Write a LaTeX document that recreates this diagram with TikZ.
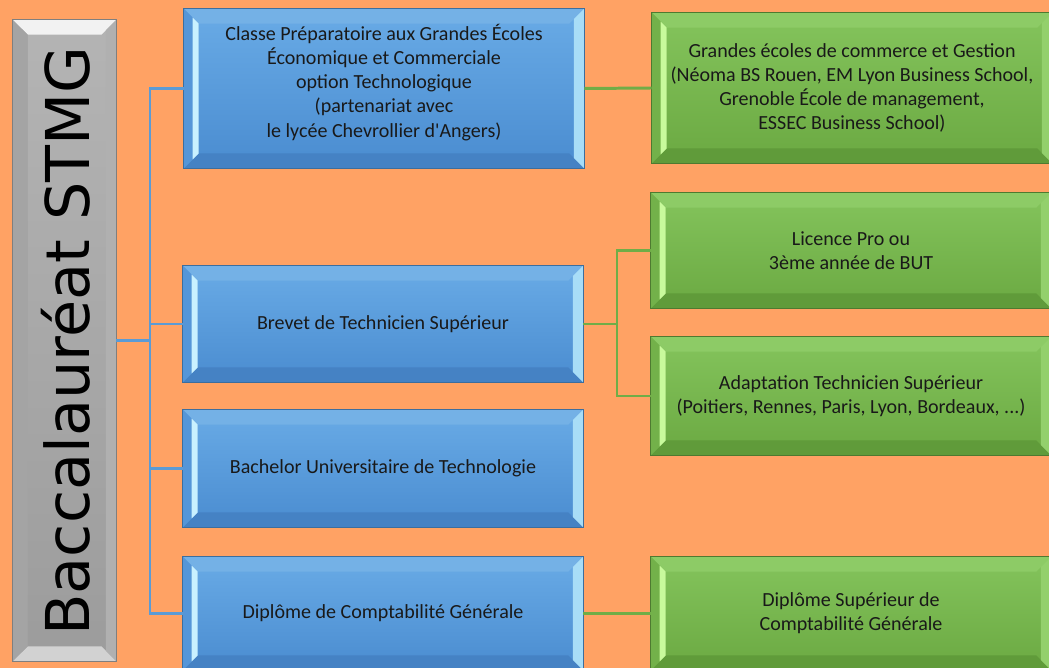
\documentclass[tikz,border=0pt]{standalone}
\usepackage{fontspec}
\setmainfont{Carlito}
\newfontfamily\titlefont{DejaVu Sans}
\definecolor{bgorange}{HTML}{FFA264}
% blue boxes
\definecolor{bltopfill}{HTML}{69ABE6}
\definecolor{blbotfill}{HTML}{4A8CD0}
\definecolor{bltop}{HTML}{74B1E6}
\definecolor{blbot}{HTML}{4582C4}
\definecolor{blleft}{HTML}{5596D8}
\definecolor{blright}{HTML}{A8DDF7}
\definecolor{blhi}{HTML}{C9F1FF}
\definecolor{blline}{HTML}{3C6E9E}
% green boxes
\definecolor{grtopfill}{HTML}{84C45C}
\definecolor{grbotfill}{HTML}{6BA942}
\definecolor{grtop}{HTML}{8DCB66}
\definecolor{grbot}{HTML}{609B3A}
\definecolor{grleft}{HTML}{73B14A}
\definecolor{grright}{HTML}{93D06C}
\definecolor{grhi}{HTML}{C8FA9C}
\definecolor{grline}{HTML}{4E7A30}
% gray box
\definecolor{gytopfill}{HTML}{B4B4B4}
\definecolor{gybotfill}{HTML}{9C9C9C}
\definecolor{gytop}{HTML}{F2F2F2}
\definecolor{gybot}{HTML}{D2D2D2}
\definecolor{gyleft}{HTML}{A4A4A4}
\definecolor{gyright}{HTML}{B0B0B0}
\definecolor{gyhi}{HTML}{A4A4A4}
\definecolor{gyline}{HTML}{7F7F7F}
\definecolor{bluelink}{HTML}{5B9BD5}
\definecolor{greenlink}{HTML}{70AD47}

\newlength\bw
\setlength\bw{0.3cm}
% bevel facets round a named node, #2 is the colour prefix
\newcommand{\bevelbox}[2]{%
  \fill[#2top] (#1.north west) -- (#1.north east) -- ([shift={(-\bw,-\bw)}]#1.north east) -- ([shift={(\bw,-\bw)}]#1.north west) -- cycle;
  \fill[#2bot] (#1.south west) -- (#1.south east) -- ([shift={(-\bw,\bw)}]#1.south east) -- ([shift={(\bw,\bw)}]#1.south west) -- cycle;
  \fill[#2left] (#1.north west) -- ([shift={(\bw,-\bw)}]#1.north west) -- ([shift={(\bw,\bw)}]#1.south west) -- (#1.south west) -- cycle;
  \fill[#2right] (#1.north east) -- ([shift={(-0.7\bw,-0.7\bw)}]#1.north east) -- ([shift={(-0.7\bw,0.7\bw)}]#1.south east) -- (#1.south east) -- cycle;
  \fill[#2hi] ([shift={(0.6\bw,-0.6\bw)}]#1.north west) -- ([shift={(\bw,-\bw)}]#1.north west) -- ([shift={(\bw,\bw)}]#1.south west) -- ([shift={(0.6\bw,0.6\bw)}]#1.south west) -- cycle;
  \draw[#2line, line width=0.6pt] (#1.north west) rectangle (#1.south east);
}

\begin{document}
\begin{tikzpicture}[x=0.02cm, y=-0.02cm]
  \tikzstyle{every node}=[inner sep=2pt, align=center, text=black!90, font=\fontsize{11.4}{13.8}\selectfont]
  \tikzstyle{bluebox}=[rectangle, minimum width=8cm, top color=bltopfill, bottom color=blbotfill]
  \tikzstyle{greenbox}=[rectangle, minimum width=8cm, top color=grtopfill, bottom color=grbotfill]
  \tikzstyle{graybox}=[rectangle, minimum width=2.06cm, minimum height=12.82cm, top color=gytopfill, bottom color=gybotfill]
  \tikzstyle{bluelink}=[draw=bluelink, line width=1.7pt]
  \tikzstyle{greenlink}=[draw=greenlink, line width=1.7pt]

  \clip (0,0) rectangle (1049,668);
  \fill[bgorange] (0,0) rectangle (1049,668);

  % left column
  \node[graybox] (stmg) at (64.5,340.5) {};
  \bevelbox{stmg}{gy}
  \node[rotate=90, font=\titlefont\fontsize{34.4}{38}\selectfont, text=black] (stmgtext) at (66,341) {Baccalauréat STMG};

  % blue column
  \node[bluebox, minimum height=3.18cm] (cpge) at (384,88.5) {};
  \node (cpgetext) at (384,82) {Classe Préparatoire aux Grandes Écoles\\Économique et Commerciale\\option Technologique\\(partenariat avec\\le lycée Chevrollier d\textquotesingle Angers)};
  \node[bluebox, minimum height=2.32cm] (bts) at (383,324) {Brevet de Technicien Supérieur};
  \node[bluebox, minimum height=2.34cm] (but) at (383,468.5) {Bachelor Universitaire de Technologie};
  \node[bluebox, minimum height=2.26cm] (dcg) at (383,613.5) {Diplôme de Comptabilité Générale};
  \foreach \n in {cpge,bts,but,dcg} {\bevelbox{\n}{bl}}

  % green column
  \node[greenbox, minimum height=3.0cm] (ecoles) at (852,88) {Grandes écoles de commerce et Gestion\\(Néoma BS Rouen, EM Lyon Business School,\\Grenoble École de management,\\ESSEC Business School)};
  \node[greenbox, minimum height=2.3cm] (licence) at (851,250.5) {Licence Pro ou\\3ème année de BUT};
  \node[greenbox, minimum height=2.36cm] (ats) at (851,396) {Adaptation Technicien Supérieur\\(Poitiers, Rennes, Paris, Lyon, Bordeaux, ...)};
  \node[greenbox, minimum height=2.26cm] (dscg) at (851,613.5) {Diplôme Supérieur de\\Comptabilité Générale};
  \foreach \n in {ecoles,licence,ats,dscg} {\bevelbox{\n}{gr}}

  % connectors
  \coordinate (jleft) at (150,340.5);
  \coordinate (jright) at (617,324);
  \draw[bluelink] (stmg.east) -- (jleft);
  \foreach \n in {cpge,bts,but,dcg} {\draw[bluelink] (jleft) |- (\n.west);}
  \draw[greenlink] (cpge.east) -- (ecoles.west);
  \draw[greenlink] (bts.east) -- (jright);
  \draw[greenlink] (jright) |- (licence.west);
  \draw[greenlink] (jright) |- (ats.west);
  \draw[greenlink] (dcg.east) -- (dscg.west);
\end{tikzpicture}
\end{document}
